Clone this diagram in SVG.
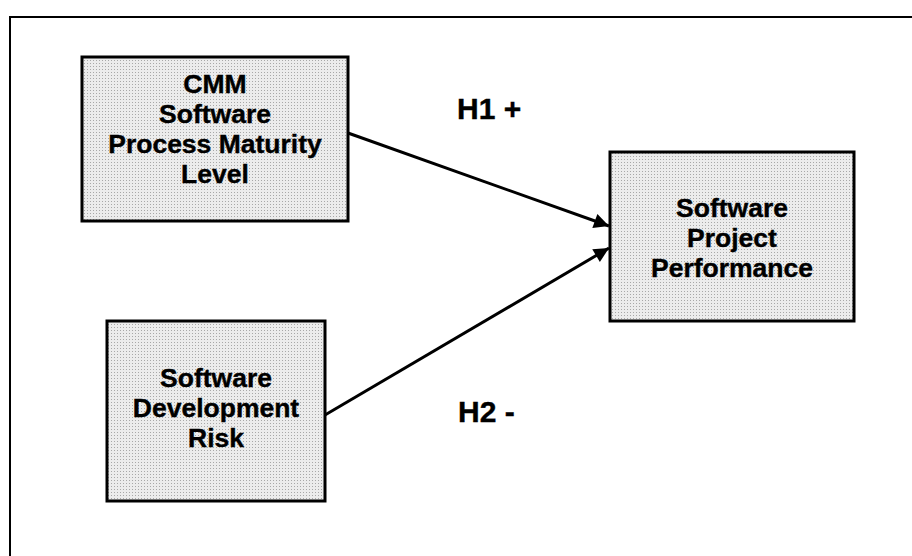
<svg xmlns="http://www.w3.org/2000/svg" width="912" height="556" viewBox="0 0 912 556">
<style>
.box{fill:url(#dots);stroke:#000;stroke-width:3}
.lbl{font-family:"Liberation Sans",Arial,sans-serif;font-weight:bold;font-size:26.5px;fill:#000;stroke:#000;stroke-width:0.4;text-anchor:middle}
.hyp{font-family:"Liberation Sans",Arial,sans-serif;font-weight:bold;font-size:30px;fill:#000;stroke:#000;stroke-width:0.4}
.conn{stroke:#000;stroke-width:3;fill:none;marker-end:url(#arr)}
</style>
<defs>
<pattern id="dots" width="3" height="3" patternUnits="userSpaceOnUse">
<rect width="3" height="3" fill="#ececec"/>
<rect width="1" height="1" fill="#a8a8a8"/>
</pattern>
<marker id="arr" viewBox="0 0 10 10" refX="10" refY="5" markerWidth="6.5" markerHeight="5" markerUnits="strokeWidth" orient="auto">
<path d="M0,0 L10,5 L0,10 z" fill="#000"/>
</marker>
</defs>
<rect width="912" height="556" fill="#fff"/>
<rect x="10" y="17" width="920" height="560" fill="none" stroke="#000" stroke-width="2"/>
<g id="connectors">
<line class="conn" x1="348" y1="133" x2="609" y2="226"/>
<line class="conn" x1="325" y1="415" x2="609" y2="248"/>
</g>
<g id="cmm">
<rect class="box" x="82" y="57" width="266" height="164"/>
<text class="lbl" x="215" y="93">CMM</text>
<text class="lbl" x="215" y="123">Software</text>
<text class="lbl" x="215" y="153">Process Maturity</text>
<text class="lbl" x="215" y="183">Level</text>
</g>
<g id="risk">
<rect class="box" x="107" y="321" width="218" height="180"/>
<text class="lbl" x="216" y="387">Software</text>
<text class="lbl" x="216" y="417">Development</text>
<text class="lbl" x="216" y="447">Risk</text>
</g>
<g id="performance">
<rect class="box" x="610" y="152" width="244" height="169"/>
<text class="lbl" x="732" y="217">Software</text>
<text class="lbl" x="732" y="247">Project</text>
<text class="lbl" x="732" y="277">Performance</text>
</g>
<g id="labels">
<text class="hyp" x="457" y="119">H1 +</text>
<text class="hyp" x="458" y="422">H2 -</text>
</g>
</svg>
